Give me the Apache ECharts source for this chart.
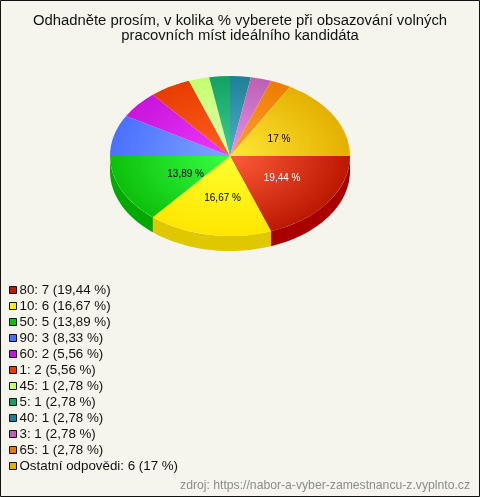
<!DOCTYPE html>
<html><head><meta charset="utf-8">
<style>html,body{margin:0;padding:0;background:#f5f5ee}#c{width:480px;height:497px}</style>
<script src="https://cdn.jsdelivr.net/npm/echarts@6/dist/echarts.min.js"></script>
</head><body><div id="c"></div>
<script>
const names = ['80','10','50','90','60','1','45','5','40','3','65','Ostatní odpovědi'];
const counts = [7,6,5,3,2,2,1,1,1,1,1,6];
const percents = ['19,44 %','16,67 %','13,89 %','8,33 %','5,56 %','5,56 %','2,78 %','2,78 %','2,78 %','2,78 %','2,78 %','17 %'];
const shownLabels = [true,true,true,false,false,false,false,false,false,false,false,true];
const labelColors = ['#fff','#000','#000','#000','#000','#000','#000','#000','#000','#000','#000','#000'];
const labelNudge = [[3,-1],[3,3],[10,1],[0,0],[0,0],[0,0],[0,0],[0,0],[0,0],[0,0],[0,0],[-3,3]];
const edgeColors = ['#bc1800','#ffe600','#0cc00c','#4a70ff','#c814dc','#e83c00','#c4ff70','#14a064','#1e8096','#bc60b4','#ee7c00','#e4b000'];
const coreColors = ['#ff5c3c','#ffff30','#38ff44','#80a4ff','#f038ff','#ff6020','#e0ffb0','#3cd090','#50b0c8','#ec90ec','#ffa030','#ffe838'];
const sideColors = ['#a80000','#e0c800','#00a800','#3050d0','#a000b0','#b82800','#a0d050','#008048','#106078','#984890','#c06000','#c09000'];
const legendIcons = ['#c01c00','#ffee00','#0cc00c','#4a70ff','#c814dc','#e83c00','#c4ff70','#14a064','#1e8096','#bc60b4','#ee7c00','#e4b000'];

const CX = 230, CY = 156, RX = 120, RY = 80, DEPTH = 15;
const total = counts.reduce((a,b)=>a+b,0);
let acc = 0;
const starts = counts.map(v => { const s = acc; acc += v; return s / total * Math.PI * 2; });

function slice(i){
  return function(params, api){
    const a0 = starts[i];
    const a1 = a0 + api.value(0) / total * Math.PI * 2;
    const children = [];
    const lo = Math.max(a0, 0), hi = Math.min(a1, Math.PI);
    if (hi > lo) {
      const pts = [];
      const n = 40;
      for (let k = 0; k <= n; k++) { const t = lo + (hi-lo)*k/n; pts.push([CX + RX*Math.cos(t), CY + RY*Math.sin(t)]); }
      for (let k = n; k >= 0; k--) { const t = lo + (hi-lo)*k/n; pts.push([CX + RX*Math.cos(t), CY + DEPTH + RY*Math.sin(t)]); }
      children.push({type:'polygon', z2:1, shape:{points:pts}, style:{fill:sideColors[i]}});
    }
    children.push({
      type:'group', x:CX, y:CY, scaleY:RY/RX,
      children:[{type:'sector', z2:10,
        shape:{cx:0,cy:0,r:RX,r0:0,startAngle:a0,endAngle:a1,clockwise:true},
        style:{fill:{type:'radial',x:0,y:0,r:RX,global:true,
          colorStops:[{offset:0,color:coreColors[i]},{offset:1,color:edgeColors[i]}]}}}]
    });
    if (shownLabels[i]) {
      const m = (a0+a1)/2;
      children.push({type:'text', z2:20,
        x: CX + RX*0.5*Math.cos(m) + labelNudge[i][0],
        y: CY + RY*0.5*Math.sin(m) + labelNudge[i][1],
        style:{text:percents[i],fill:labelColors[i],font:'10px "Liberation Sans"',align:'center',verticalAlign:'middle'}});
    }
    return {type:'group',children};
  };
}
const labels = names.map((n,i)=>n+': '+counts[i]+' ('+percents[i]+')');
const chart = echarts.init(document.getElementById('c'),null,{renderer:'canvas'});
chart.setOption({
  animation:false,
  backgroundColor:'#f5f5ee',
  title:{text:'Odhadněte prosím, v kolika % vyberete při obsazování volných\npracovních míst ideálního kandidáta',
    left:240,top:13,padding:0,textAlign:'center',
    textStyle:{fontFamily:'Liberation Sans',fontSize:14.85,fontWeight:'normal',color:'#111',lineHeight:15}},
  legend:{orient:'vertical',left:4,top:278,itemWidth:7,itemHeight:7,itemGap:2,icon:'rect',
    selectedMode:false,
    itemStyle:{borderColor:'#111',borderWidth:1},
    textStyle:{fontFamily:'Liberation Sans',fontSize:13.33,color:'#111',padding:[0,0,0,-2],lineHeight:14},
    data:labels},
  graphic:[
    {type:'rect',shape:{x:0.5,y:0.5,width:479,height:496},style:{fill:null,stroke:'#111',lineWidth:1},silent:true},
    {type:'text',right:10,top:480,style:{text:'zdroj: https://nabor-a-vyber-zamestnancu-z.vyplnto.cz',fill:'#8c8c8c',font:'12.2px "Liberation Sans"'}}
  ],
  series:labels.map((l,i)=>({
    type:'custom',name:l,coordinateSystem:'none',silent:true,
    itemStyle:{color:legendIcons[i]},
    data:[[counts[i]]],renderItem:slice(i)
  }))
});
</script></body></html>
